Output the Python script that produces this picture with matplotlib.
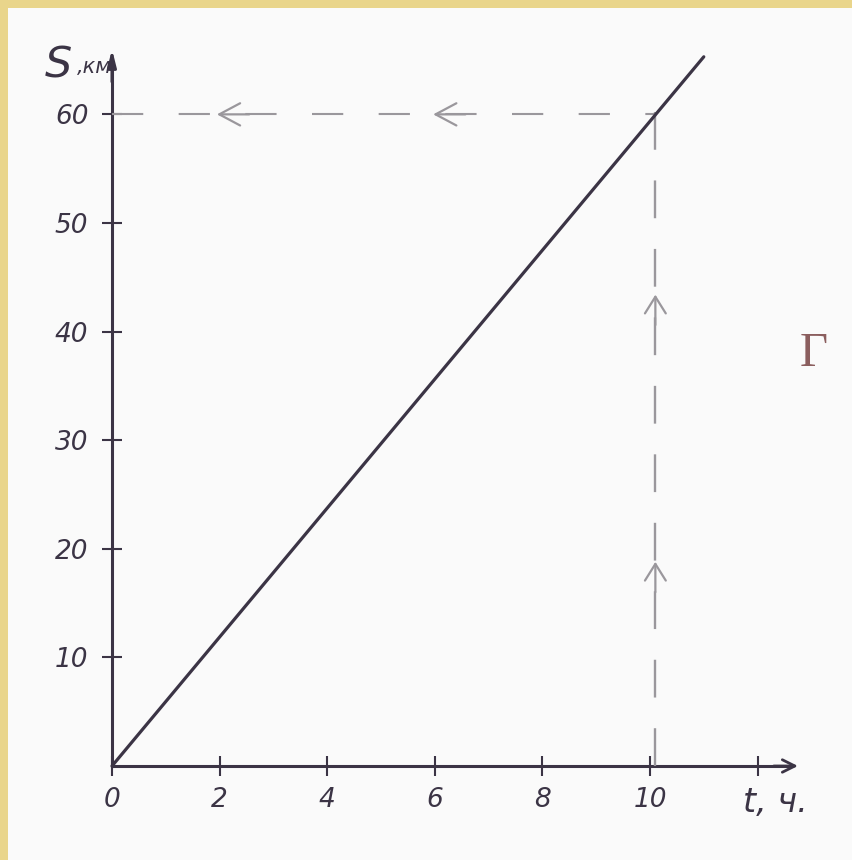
import matplotlib
matplotlib.use("Agg")
import matplotlib.pyplot as plt
from matplotlib.patches import Rectangle

# ---- data ----
t_ticks = [0, 2, 4, 6, 8, 10, 12]
t_labels = ['0', '2', '4', '6', '8', '10', '']
s_ticks = [10, 20, 30, 40, 50, 60]
s_labels = ['10', '20', '30', '40', '50', '60']
t_line = [0, 11]
s_line = [0, 65.3]
t_read = 10.1
s_read = 60
left_arrow_t = [1.95, 5.97]
up_arrow_s = [43.4, 18.8]

INK = '#3B3445'
DASH = '#9A979C'

fig = plt.figure(figsize=(8.52, 8.6), dpi=100, facecolor='#E9D58B')
fig.patches.append(Rectangle((8 / 852, 0), 1 - 8 / 852, 1 - 8 / 860,
                             transform=fig.transFigure, facecolor='#FAFAFA',
                             edgecolor='none', zorder=-10))
ax = fig.add_axes([0, 0, 1, 1])
ax.set_zorder(5)
ax.set_facecolor('none')
ax.set_xlim(-2.082, 13.755)
ax.set_ylim(-8.656, 70.53)

for s in ['top', 'right']:
    ax.spines[s].set_visible(False)
for s in ['left', 'bottom']:
    ax.spines[s].set_position(('data', 0))
    ax.spines[s].set_color(INK)
    ax.spines[s].set_linewidth(2.2)
ax.spines['bottom'].set_bounds(0, 12.6)
ax.spines['left'].set_bounds(0, 65)

ax.set_xticks(t_ticks)
ax.set_xticklabels(t_labels)
ax.set_yticks(s_ticks)
ax.set_yticklabels(s_labels)
ax.tick_params(axis='both', direction='inout', length=14, width=1.5, color=INK,
               labelcolor=INK, labelsize=19)
ax.tick_params(axis='x', pad=8)
ax.tick_params(axis='y', pad=10)
for lab in ax.get_xticklabels() + ax.get_yticklabels():
    lab.set_fontstyle('italic')

# axis arrows
ax.annotate('', xy=(0, 66.0), xytext=(0, 63),
            arrowprops=dict(arrowstyle='-|>,head_length=1.0,head_width=0.25',
                            lw=2.2, color=INK, shrinkA=0, shrinkB=0))
ax.annotate('', xy=(12.75, 0), xytext=(12.3, 0),
            arrowprops=dict(arrowstyle='->,head_length=0.9,head_width=0.45',
                            lw=2.0, color=INK, shrinkA=0, shrinkB=0))

# graph line
ax.plot(t_line, s_line, color=INK, lw=2.3, solid_capstyle='round', zorder=5)

# reading lines
ax.plot([0, t_read], [s_read, s_read], color=DASH, lw=1.5, dashes=(15, 17), zorder=3)
ax.plot([t_read, t_read], [0, s_read + 1.5], color=DASH, lw=1.7, dashes=(16, 13), zorder=3)
for tx in left_arrow_t:
    ax.annotate('', xy=(tx, s_read), xytext=(tx + 0.6, s_read),
                arrowprops=dict(arrowstyle='->,head_length=1.5,head_width=0.8',
                                lw=1.6, color=DASH, shrinkA=0, shrinkB=0))
for sy in up_arrow_s:
    ax.annotate('', xy=(t_read, sy), xytext=(t_read, sy - 2.8),
                arrowprops=dict(arrowstyle='->,head_length=1.2,head_width=0.75',
                                lw=1.6, color=DASH, shrinkA=0, shrinkB=0))

# axis titles
ax.text(-1.25, 63.4, 'S', fontsize=31, color=INK, style='italic')
ax.text(-0.66, 63.8, ',км', fontsize=15, color=INK, style='italic')
ax.text(11.72, -4.2, 't, ч.', fontsize=24, color=INK, style='italic')

fig.text(800 / 852, 1 - 366 / 860, 'Г', fontsize=35, color='#8B5E5E',
         family='Liberation Serif')

fig.savefig('out.png', dpi=100, facecolor=fig.get_facecolor())
